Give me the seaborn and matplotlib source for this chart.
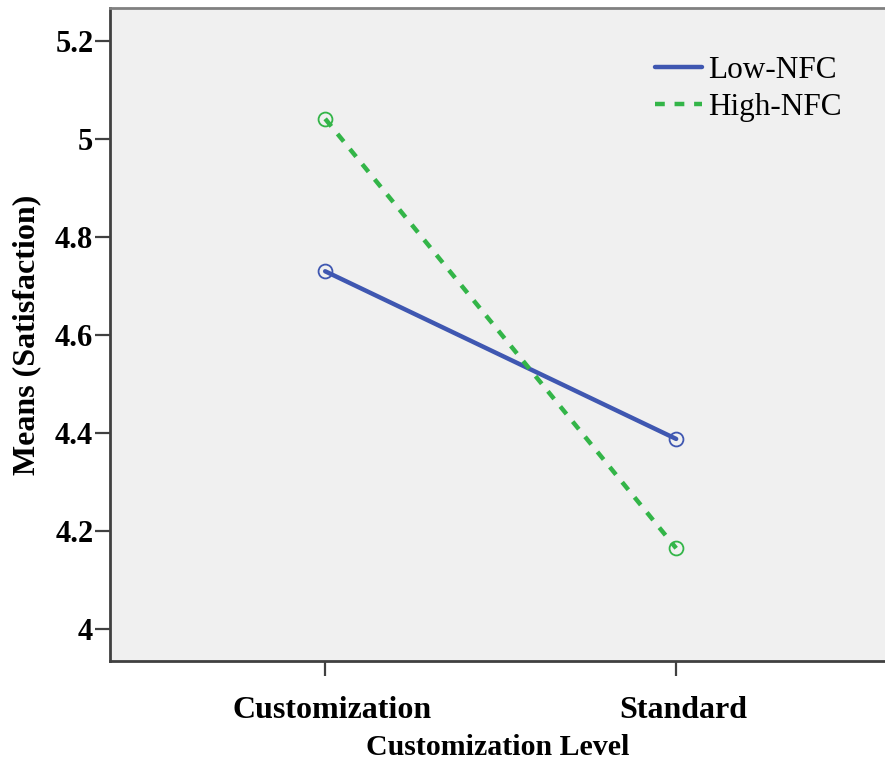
import matplotlib
matplotlib.use('Agg')
import matplotlib.pyplot as plt
import matplotlib.transforms as mtransforms
import seaborn as sns
import pandas as pd
from matplotlib.lines import Line2D

# --- dados ---
levels = ['Customization', 'Standard']
groups = ['Low-NFC', 'High-NFC']
low_nfc = [4.73, 4.388]
high_nfc = [5.041, 4.165]
yticks = [4, 4.2, 4.4, 4.6, 4.8, 5, 5.2]
ytick_labels = ['4', '4.2', '4.4', '4.6', '4.8', '5', '5.2']

colors = {'Low-NFC': '#3f57b1', 'High-NFC': '#33b548'}

df = pd.DataFrame({
    'Level': levels * 2,
    'Mean': low_nfc + high_nfc,
    'Group': [groups[0]] * 2 + [groups[1]] * 2,
})
df['x'] = df['Level'].map({l: i for i, l in enumerate(levels)})

sns.set_style('white', rc={'text.color': 'black', 'axes.labelcolor': 'black',
                           'xtick.color': '#404040', 'ytick.color': '#404040',
                           'xtick.bottom': True, 'ytick.left': True})
plt.rcParams['font.family'] = ['Liberation Serif', 'DejaVu Serif']

fig = plt.figure(figsize=(8.85, 7.67), dpi=100)
ax = fig.add_axes([110 / 885, 106 / 767, 1 - 110 / 885, 653 / 767])
ax.set_facecolor('#f0f0f0')

sns.lineplot(data=df, x='x', y='Mean', hue='Group', style='Group',
             hue_order=groups, style_order=groups, palette=colors,
             dashes={'Low-NFC': '', 'High-NFC': (2.2, 2.2)},
             markers={'Low-NFC': 'o', 'High-NFC': 'o'},
             markersize=10, markeredgewidth=1.3, linewidth=3.2,
             legend=False, ax=ax)
for ln in ax.lines:
    ln.set_markerfacecolor('none')
    ln.set_markeredgecolor(ln.get_color())

ax.set_xlim(-0.613, 1.595)
ax.set_ylim(3.935, 5.267)
ax.set_xticks(range(len(levels)))
ax.set_xticklabels(levels, fontsize=23, fontweight='bold', color='black')
ax.set_yticks(yticks)
ax.set_yticklabels(ytick_labels, fontsize=22, fontweight='bold', color='black')
ax.tick_params(axis='both', length=11, width=1.6, color='#404040', direction='out',
               bottom=True, left=True)
ax.tick_params(axis='y', pad=1)
ax.tick_params(axis='x', pad=14)

# labels do eixo x um pouco deslocados para a direita, como no original
shift = mtransforms.ScaledTranslation(7 / 100, 0, fig.dpi_scale_trans)
for lbl in ax.get_xticklabels():
    lbl.set_transform(lbl.get_transform() + shift)

for side in ['left', 'bottom']:
    ax.spines[side].set_color('#404040')
    ax.spines[side].set_linewidth(2)
ax.spines['top'].set_color('#808080')
ax.spines['top'].set_linewidth(2)
ax.spines['right'].set_visible(False)

ax.set_xlabel('Customization Level', fontsize=21.5, fontweight='bold', labelpad=7)
ax.set_ylabel('Means (Satisfaction)', fontsize=23, fontweight='bold', labelpad=10)

handles = [
    Line2D([], [], color=colors['Low-NFC'], lw=3.2),
    Line2D([], [], color=colors['High-NFC'], lw=3.2, dashes=(2.2, 2.2)),
]
ax.legend(handles, groups, loc='upper left', bbox_to_anchor=(655 / 885, 1 - 56 / 767),
          bbox_transform=fig.transFigure, frameon=False, fontsize=22.5,
          handlelength=1.5, handletextpad=0.2, labelspacing=0.25, borderpad=0,
          borderaxespad=0)

plt.savefig('out.png', dpi=100)
